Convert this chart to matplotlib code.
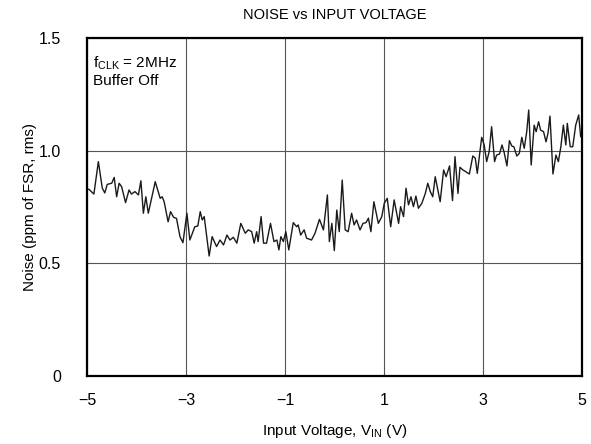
import matplotlib
matplotlib.use('Agg')
import matplotlib.pyplot as plt

plt.rcParams['font.family'] = ['Liberation Sans', 'DejaVu Sans']
plt.rcParams['mathtext.fontset'] = 'custom'
plt.rcParams['mathtext.rm'] = 'Liberation Sans'
plt.rcParams['mathtext.it'] = 'Liberation Sans'

# input voltage (V)
vin = [-5.0, -4.97, -4.87, -4.78, -4.70, -4.65, -4.60, -4.51, -4.46, -4.41, -4.36,
       -4.31, -4.23, -4.16, -4.11, -4.04, -3.97, -3.92, -3.87, -3.82, -3.77,
       -3.63, -3.53, -3.49, -3.45, -3.37, -3.32, -3.26, -3.20, -3.13, -3.07,
       -2.99, -2.93, -2.83, -2.77, -2.72, -2.68, -2.64, -2.54, -2.48, -2.39,
       -2.32, -2.25, -2.18, -2.12, -2.05, -1.98, -1.90, -1.81, -1.75, -1.68,
       -1.63, -1.58, -1.55, -1.49, -1.44, -1.38, -1.30, -1.23, -1.17, -1.13,
       -1.09, -1.04, -0.99, -0.93, -0.84, -0.77, -0.74, -0.69, -0.62, -0.57,
       -0.47, -0.40, -0.31, -0.23, -0.15, -0.11, -0.06, -0.01, 0.04, 0.09,
       0.15, 0.21, 0.27, 0.34, 0.39, 0.44, 0.51, 0.57, 0.63, 0.68,
       0.73, 0.79, 0.88, 0.95, 1.00, 1.06, 1.13, 1.20, 1.29, 1.33,
       1.39, 1.44, 1.49, 1.54, 1.59, 1.64, 1.69, 1.76, 1.83, 1.88,
       1.93, 1.98, 2.03, 2.07, 2.13, 2.20, 2.25, 2.32, 2.38, 2.43,
       2.49, 2.53, 2.59, 2.65, 2.72, 2.79, 2.84, 2.88, 2.97, 3.02,
       3.07, 3.12, 3.17, 3.23, 3.27, 3.33, 3.38, 3.42, 3.48, 3.53,
       3.58, 3.62, 3.68, 3.73, 3.78, 3.83, 3.88, 3.92, 3.97, 4.03,
       4.07, 4.12, 4.16, 4.22, 4.27, 4.31, 4.35, 4.41, 4.47, 4.52,
       4.57, 4.62, 4.67, 4.70, 4.76, 4.81, 4.87, 4.93, 4.97, 5.0]

# noise (ppm of FSR, rms)
noise = [0.83, 0.829, 0.808, 0.952, 0.834, 0.813, 0.851, 0.856, 0.882, 0.796, 0.856,
         0.841, 0.770, 0.826, 0.808, 0.819, 0.804, 0.867, 0.723, 0.796, 0.723,
         0.863, 0.789, 0.796, 0.774, 0.685, 0.730, 0.705, 0.700, 0.619, 0.592,
         0.723, 0.604, 0.663, 0.666, 0.730, 0.693, 0.708, 0.533, 0.619, 0.575,
         0.604, 0.582, 0.626, 0.604, 0.616, 0.590, 0.678, 0.634, 0.649, 0.641,
         0.590, 0.641, 0.597, 0.708, 0.590, 0.590, 0.678, 0.597, 0.604, 0.560,
         0.619, 0.597, 0.641, 0.560, 0.681, 0.663, 0.671, 0.626, 0.649, 0.612,
         0.604, 0.634, 0.696, 0.649, 0.804, 0.597, 0.678, 0.557, 0.737, 0.641,
         0.870, 0.649, 0.641, 0.723, 0.671, 0.693, 0.649, 0.678, 0.681, 0.701,
         0.641, 0.774, 0.678, 0.708, 0.767, 0.789, 0.663, 0.782, 0.678, 0.752,
         0.708, 0.834, 0.760, 0.796, 0.752, 0.799, 0.745, 0.767, 0.811, 0.856,
         0.819, 0.796, 0.885, 0.841, 0.774, 0.915, 0.885, 0.933, 0.779, 0.974,
         0.811, 0.927, 0.915, 0.907, 0.897, 0.977, 0.967, 0.900, 1.060, 1.026,
         0.952, 0.996, 1.107, 0.952, 0.981, 0.986, 1.026, 0.996, 0.933, 1.045,
         1.021, 1.018, 0.977, 0.989, 1.060, 1.011, 1.085, 1.181, 0.937, 1.114,
         1.085, 1.129, 1.092, 1.085, 1.040, 1.078, 1.154, 0.897, 0.981, 0.952,
         1.018, 1.114, 1.026, 1.122, 1.018, 1.018, 1.114, 1.159, 1.063, 1.06]

xticks = [-5, -3, -1, 1, 3, 5]
xtick_labels = ['\u22125', '\u22123', '\u22121', '1', '3', '5']
yticks = [0, 0.5, 1.0, 1.5]
ytick_labels = ['0', '0.5', '1.0', '1.5']

fig = plt.figure(figsize=(5.91, 4.44), dpi=100)
ax = fig.add_axes([0.148, 0.153, 0.837, 0.761])

ax.plot(vin, noise, color='#1a1a1a', linewidth=1.0)

ax.set_xlim(-5, 5)
ax.set_ylim(0, 1.5)
ax.set_xticks(xticks)
ax.set_xticklabels(xtick_labels)
ax.set_yticks(yticks)
ax.set_yticklabels(ytick_labels)
ax.tick_params(length=0, labelsize=11.5)
ax.tick_params(axis='x', pad=12)
ax.tick_params(axis='y', pad=19)
ax.grid(True, color='#555555', linewidth=0.8)
for s in ax.spines.values():
    s.set_linewidth(1.6)
    s.set_color('black')

ax.set_title('NOISE vs INPUT VOLTAGE', fontsize=10.5, pad=14)
ax.set_xlabel('Input Voltage, V$_{\\mathregular{IN}}$ (V)', fontsize=11, labelpad=10)
ax.set_ylabel('Noise (ppm of FSR, rms)', fontsize=11, labelpad=1)

ax.text(0.012, 0.95, 'f$_{\\mathregular{CLK}}$ = 2MHz\nBuffer Off', transform=ax.transAxes,
        ha='left', va='top', fontsize=11, linespacing=1.15)

fig.savefig('out.png', dpi=100)
